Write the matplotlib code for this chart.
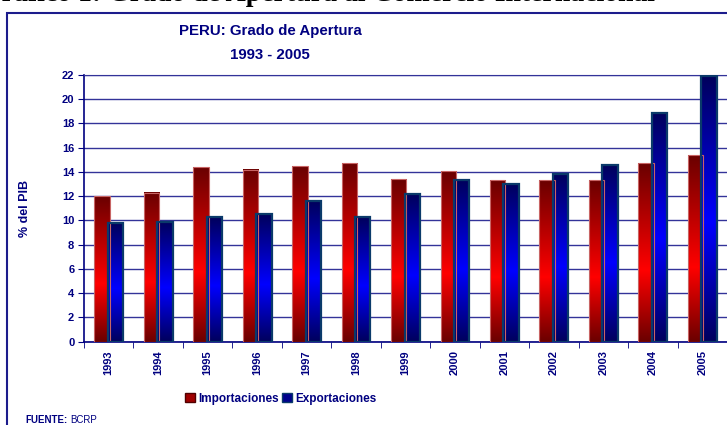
import numpy as np
import matplotlib.pyplot as plt
from matplotlib.patches import Rectangle, Patch
from matplotlib.colors import LinearSegmentedColormap

years = ['1993', '1994', '1995', '1996', '1997', '1998', '1999',
         '2000', '2001', '2002', '2003', '2004', '2005']
importaciones = [12.0, 12.3, 14.4, 14.2, 14.5, 14.7, 13.4,
                 14.1, 13.3, 13.3, 13.3, 14.7, 15.4]
exportaciones = [9.8, 9.9, 10.3, 10.5, 11.6, 10.3, 12.2,
                 13.3, 13.0, 13.8, 14.6, 18.9, 21.9]
yticks = np.arange(0, 23, 2)

navy = '#000080'
grid_c = '#333399'
plt.rcParams['font.family'] = ['Liberation Sans', 'DejaVu Sans']

# vertical gradients: dark at top and bottom, bright in the middle
red_cm = LinearSegmentedColormap.from_list(
    'r', [(0, '#6a0000'), (0.4, '#ff0000'), (1, '#6a0000')])
blue_cm = LinearSegmentedColormap.from_list(
    'b', [(0, '#00005c'), (0.45, '#0000ff'), (1, '#00005c')])
grad = np.linspace(0, 1, 256).reshape(-1, 1)

W, H = 727, 425
fig = plt.figure(figsize=(W / 100, H / 100), dpi=100)
ax = fig.add_axes([84 / W, 1 - 341.7 / H, (727 - 84) / W, (341.7 - 75) / H])

x = np.arange(len(years))
bw = 0.31
off = 0.136


def grad_bars(xs, hs, cmap, ec, lw):
    for xi, h in zip(xs, hs):
        ax.imshow(grad, cmap=cmap, aspect='auto', origin='lower',
                  extent=[xi - bw / 2, xi + bw / 2, 0, h], zorder=3)
        ax.add_patch(Rectangle((xi - bw / 2, 0), bw, h, fill=False,
                               edgecolor=ec, lw=lw, zorder=4))


grad_bars(x - off, importaciones, red_cm, '#c86464', 0.8)
grad_bars(x + off, exportaciones, blue_cm, '#0a3a6a', 1.6)

ax.set_xlim(-0.5, len(years) - 0.5)
ax.set_ylim(0, 22)
ax.set_yticks(yticks)
ax.set_yticklabels([str(v) for v in yticks], fontsize=8, fontweight='bold', color=navy)
ax.set_xticks(x)
ax.set_xticklabels(years, rotation=90, fontsize=8, fontweight='bold', color=navy)
ax.set_xticks(np.arange(-0.5, len(years), 1), minor=True)
ax.tick_params(axis='x', which='major', length=0, pad=6)
ax.tick_params(axis='x', which='minor', length=4, color=navy, direction='out')
ax.tick_params(axis='y', length=4, color=navy, pad=3)
ax.yaxis.grid(True, color=grid_c, lw=1)
ax.set_axisbelow(True)
ax.spines['right'].set_visible(False)
ax.spines['top'].set_color(grid_c)
ax.spines['left'].set_color(navy)
ax.spines['bottom'].set_color(navy)
ax.spines['left'].set_linewidth(1.2)
ax.spines['bottom'].set_linewidth(1.2)
ax.set_ylabel('% del PIB', fontsize=9, fontweight='bold', color=navy, labelpad=22)

# outer frame of the chart
fig.patches.append(Rectangle((7 / W, -0.1), 1.2, 1.1 - 13 / H, transform=fig.transFigure,
                             fill=False, edgecolor='#1c1c8c', lw=1.5))

# cut-off caption above the frame
fig.text(-20 / W, 1 - 1 / H, 'Gráfico 1: Grado de Apertura al Comercio Internacional',
         family='Liberation Serif', fontweight='bold', fontsize=20, va='baseline')

fig.text(270 / W, 1 - 31 / H, 'PERU: Grado de Apertura', ha='center', va='center',
         fontsize=10.8, fontweight='bold', color=navy)
fig.text(270 / W, 1 - 55 / H, '1993 - 2005', ha='center', va='center',
         fontsize=10.8, fontweight='bold', color=navy)

handles = [Patch(facecolor='#a00000', edgecolor='#500000', label='Importaciones'),
           Patch(facecolor='#00008c', edgecolor='#0a3a6a', label='Exportaciones')]
fig.legend(handles=handles, loc='center', bbox_to_anchor=(281 / W, 1 - 399 / H),
           ncol=2, frameon=False, handlelength=0.8, handleheight=0.8,
           handletextpad=0.3, columnspacing=0.3,
           prop={'size': 8.5, 'weight': 'bold'}, labelcolor=navy)

fig.text(25 / W, 1 - 420 / H, 'FUENTE:', fontsize=7, fontweight='bold', color=navy,
         va='center')
fig.text(70 / W, 1 - 420 / H, 'BCRP', fontsize=7, color=navy, va='center')

fig.savefig('out.png', dpi=100)
